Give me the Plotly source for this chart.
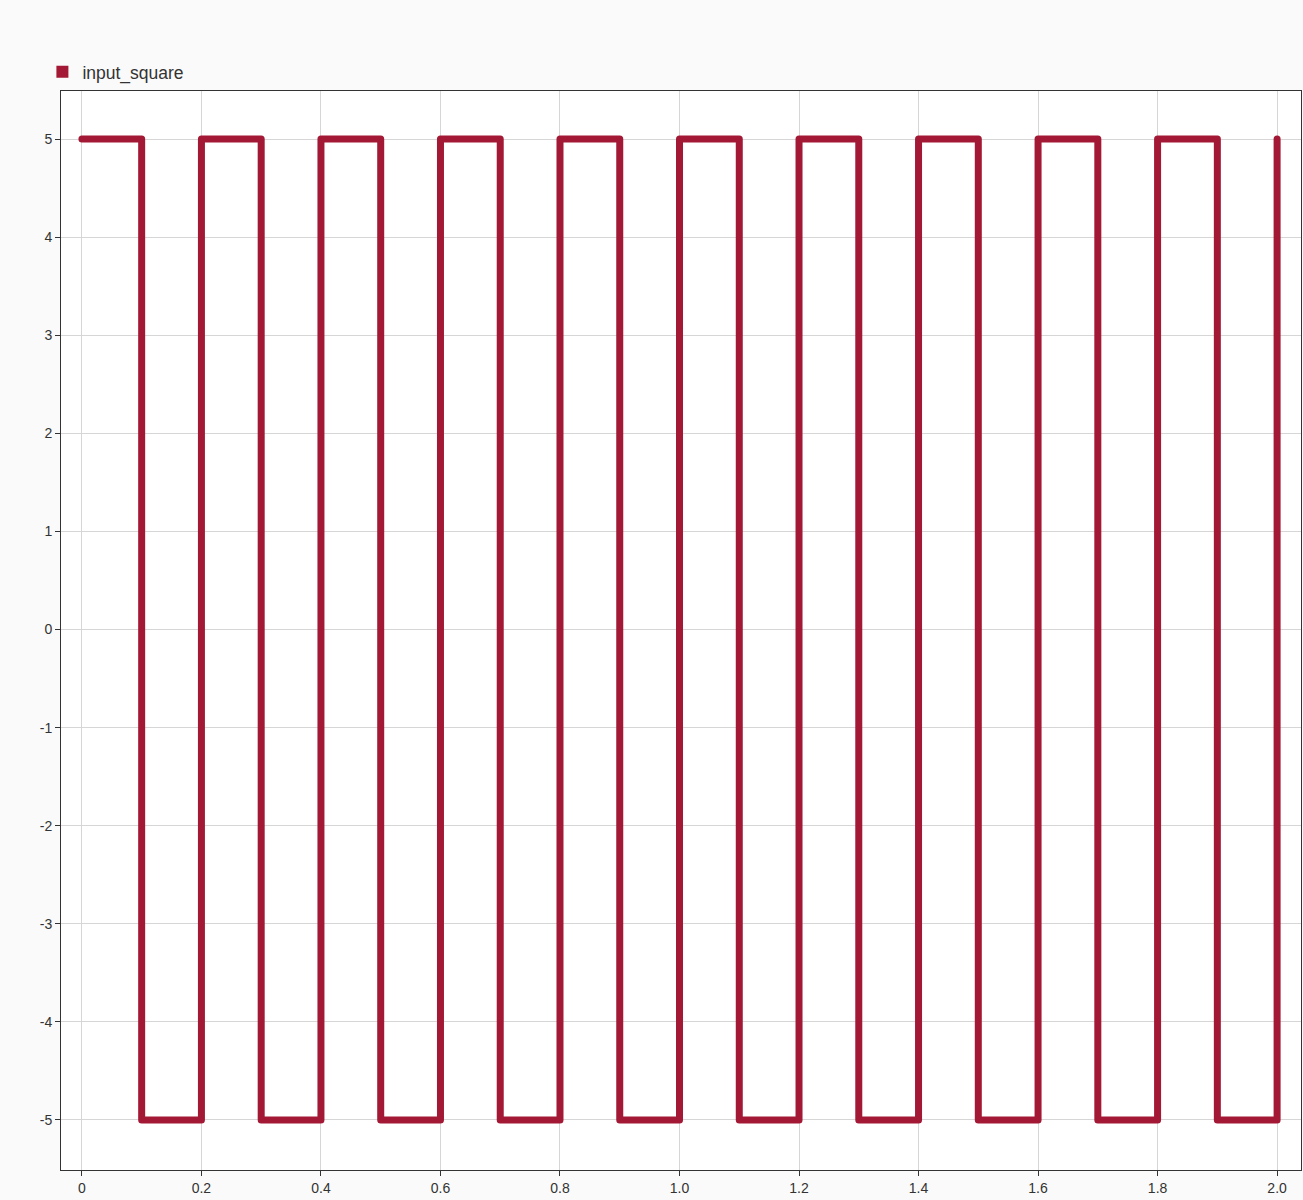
import plotly.graph_objects as go

# data
time_s = [0.0, 0.1, 0.2, 0.3, 0.4, 0.5, 0.6, 0.7, 0.8, 0.9, 1.0,
          1.1, 1.2, 1.3, 1.4, 1.5, 1.6, 1.7, 1.8, 1.9, 2.0]
input_square = [5, -5, 5, -5, 5, -5, 5, -5, 5, -5, 5,
                -5, 5, -5, 5, -5, 5, -5, 5, -5, 5]
series_name = "input_square"
x_tickvals = [0, 0.2, 0.4, 0.6, 0.8, 1.0, 1.2, 1.4, 1.6, 1.8, 2.0]
x_ticktext = ["0", "0.2", "0.4", "0.6", "0.8", "1.0", "1.2", "1.4", "1.6", "1.8", "2.0"]
y_tickvals = [-5, -4, -3, -2, -1, 0, 1, 2, 3, 4, 5]
y_ticktext = ["-5", "-4", "-3", "-2", "-1", "0", "1", "2", "3", "4", "5"]

COLOR = "#a31834"
FONT = "Liberation Sans, Arial, sans-serif"

fig = go.Figure()
fig.add_trace(go.Scatter(
    x=time_s, y=input_square, mode="lines", line_shape="hv",
    line=dict(color=COLOR, width=7), showlegend=False, name=series_name,
))
fig.add_trace(go.Scatter(
    x=[None], y=[None], mode="markers", name=series_name,
    marker=dict(symbol="square", size=12, color=COLOR), showlegend=True,
))

axis_common = dict(
    showgrid=True, gridcolor="#d6d6d6", gridwidth=1,
    showline=True, linecolor="#333333", linewidth=1, mirror=True,
    ticks="outside", ticklen=5, tickcolor="#333333",
    tickfont=dict(family=FONT, size=14, color="#333333"),
    zeroline=False,
)

fig.update_layout(
    width=1303, height=1200,
    margin=dict(l=61, r=2, t=91, b=30),
    paper_bgcolor="#fafafa", plot_bgcolor="#ffffff",
    font=dict(family=FONT, color="#333333"),
    xaxis=dict(range=[-0.035, 2.04], tickvals=x_tickvals, ticktext=x_ticktext, **axis_common),
    yaxis=dict(range=[-5.51, 5.49], tickvals=y_tickvals, ticktext=y_ticktext, **axis_common),
    legend=dict(x=-0.015, xref="paper", y=1.001, yref="paper", xanchor="left", yanchor="bottom",
                orientation="h", bgcolor="rgba(0,0,0,0)",
                font=dict(family=FONT, size=17.5, color="#333333"),
                itemwidth=30),
)

post = """
var s = document.createElement('style');
s.innerHTML = '.scatterlayer .js-line { stroke-linejoin: round !important; stroke-linecap: round !important; }';
document.head.appendChild(s);
"""

fig.write_html("out.html", post_script=post)
